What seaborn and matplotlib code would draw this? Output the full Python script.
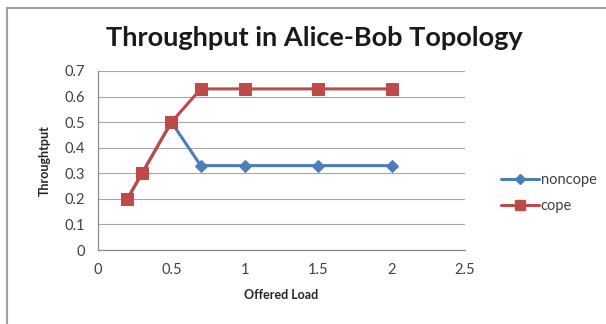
import numpy as np
import pandas as pd
import matplotlib
matplotlib.use("Agg")
import matplotlib.pyplot as plt
from matplotlib.lines import Line2D
import seaborn as sns

# Offered load (x) and throughput per scheme
offered_load = [0.2, 0.3, 0.5, 0.7, 1.0, 1.5, 2.0]
noncope = [0.2, 0.3, 0.5, 0.33, 0.33, 0.33, 0.33]
cope = [0.2, 0.3, 0.5, 0.63, 0.63, 0.63, 0.63]
series_names = ["noncope", "cope"]
x_ticks = [0, 0.5, 1, 1.5, 2, 2.5]
y_ticks = [0, 0.1, 0.2, 0.3, 0.4, 0.5, 0.6, 0.7]

df = pd.DataFrame({
    "Offered Load": offered_load * 2,
    "Throughtput": noncope + cope,
    "series": [series_names[0]] * len(offered_load) + [series_names[1]] * len(offered_load),
})

sns.set_theme(style="white")
plt.rcParams["font.family"] = ["Lato", "DejaVu Sans"]

fig = plt.figure(figsize=(6.06, 3.24), dpi=100)
ax = fig.add_axes([98 / 606, 1 - 250 / 324, 367 / 606, 179 / 324])

palette = {"noncope": "#4A7EBB", "cope": "#BE4B48"}
markers = {"noncope": "D", "cope": "s"}
sizes = {"noncope": 6, "cope": 9}

for name in series_names:
    sub = df[df["series"] == name]
    sns.lineplot(data=sub, x="Offered Load", y="Throughtput", ax=ax,
                 color=palette[name], marker=markers[name],
                 markersize=sizes[name], markeredgecolor=palette[name],
                 linewidth=2.2, label=name, legend=False)

ax.set_xlim(0, 2.5)
ax.set_ylim(0, 0.7)
ax.set_xticks(x_ticks)
ax.set_xticklabels(["0", "0.5", "1", "1.5", "2", "2.5"])
ax.set_yticks(y_ticks)
ax.set_yticklabels(["0", "0.1", "0.2", "0.3", "0.4", "0.5", "0.6", "0.7"])
ax.yaxis.grid(True, color="#A6A6A6", linewidth=0.8)
ax.xaxis.grid(False)
ax.set_axisbelow(True)
for side in ["top", "right"]:
    ax.spines[side].set_visible(False)
for side in ["left", "bottom"]:
    ax.spines[side].set_color("#8C8C8C")
    ax.spines[side].set_linewidth(0.9)
ax.tick_params(axis="both", labelsize=10.5, colors="#404040", length=0)
ax.tick_params(axis="y", pad=9)
ax.tick_params(axis="x", pad=9)

ax.set_xlabel("Offered Load", fontsize=9, fontweight="bold", color="#262626", labelpad=9)
ax.set_ylabel("Throughtput", fontsize=9, fontweight="bold", color="#262626", labelpad=10)

fig.text(0.518, 1 - 38 / 324, "Throughput in Alice-Bob Topology", ha="center", va="center",
         fontsize=19.5, fontweight="bold", color="#1a1a1a")

handles = [Line2D([0], [0], color=palette[n], marker=markers[n], markersize=sizes[n] * 0.85,
                  linewidth=2.2) for n in series_names]
fig.legend(handles, series_names, loc="center left", bbox_to_anchor=(488 / 606, 1 - 193 / 324),
           frameon=False, fontsize=10.5, handlelength=2.6, handletextpad=0.1, labelspacing=0.8,
           labelcolor="#404040")

# chart frame (left and top edges)
fig.add_artist(Line2D([7 / 606, 7 / 606], [0, 1 - 8 / 324], transform=fig.transFigure,
                      color="#A0A0A0", linewidth=1.5))
fig.add_artist(Line2D([7 / 606, 1], [1 - 8 / 324, 1 - 8 / 324], transform=fig.transFigure,
                      color="#A0A0A0", linewidth=1.5))

fig.savefig("out.png", dpi=100)
